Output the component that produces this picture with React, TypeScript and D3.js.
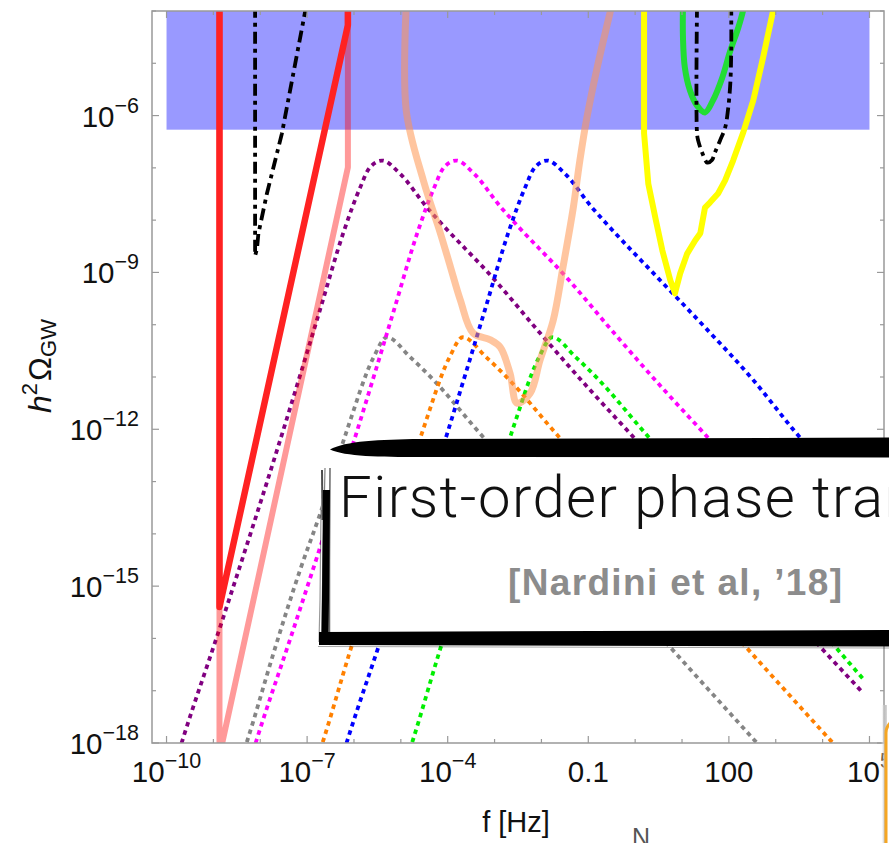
import React from "react";
import * as d3 from "d3";

// Every curve is a list of [log10 f/Hz, log10 h^2 Omega_GW] pairs.

// Pulsar-timing sensitivity curves
const eptaCurve: number[][] = [[-8.87, -3.9], [-8.87, -15.4], [-6.13, -4.27], [-6.13, -3.9]];
const skaCurve: number[][] = [[-8.87, -3.9], [-8.87, -18.2], [-8.86, -18.2], [-6.13, -6.99], [-6.13, -3.9]];

// Low-frequency dash-dot sensitivity
const dashDotLow: number[][] = [
  [-8.11, -3.9], [-8.11, -8.68], [-8.07, -8.55], [-8.04, -8.26], [-7.86, -7.5],
  [-7.54, -6.35], [-7.04, -4.0], [-7.02, -3.9],
];

// LISA sensitivity
const lisaCurve: number[][] = [
  [-4.885, -3.9], [-4.885, -5.9], [-4.52, -7.24], [-4.16, -8.24], [-3.94, -8.9],
  [-3.73, -9.53], [-3.46, -10.16], [-3.09, -10.29], [-2.88, -10.43], [-2.67, -10.93],
  [-2.52, -11.5], [-2.24, -11.31], [-2.03, -10.68], [-1.75, -9.92], [-1.54, -8.9],
  [-1.32, -7.76], [-1.18, -6.86], [-1.03, -6.04], [-0.81, -5.08], [-0.53, -4.01], [-0.5, -3.9],
];

// Ground-based detectors
const yellowCurve: number[][] = [
  [0.19, -3.9], [0.19, -6.34], [0.28, -7.3], [0.43, -7.95], [0.58, -8.58], [0.75, -9.15],
  [0.85, -9.4], [0.96, -9.02], [1.11, -8.64], [1.28, -8.39], [1.39, -8.25], [1.49, -7.76],
  [1.6, -7.66], [1.77, -7.49], [1.92, -7.24], [2.09, -6.86], [2.3, -6.34], [2.52, -5.71],
  [2.73, -4.89], [2.94, -4.01], [2.97, -3.9],
];
const greenCurve: number[][] = [
  [1.02, -3.9], [1.02, -4.5], [1.06, -5.08], [1.17, -5.52], [1.32, -5.81], [1.49, -5.94],
  [1.66, -5.71], [1.86, -5.27], [2.03, -4.76], [2.2, -4.32], [2.3, -4.0], [2.32, -3.9],
];
const dashedHigh: number[][] = [
  [1.32, -3.9], [1.32, -6.34], [1.345, -6.48], [1.43, -6.71], [1.54, -6.9], [1.64, -6.85],
  [1.7, -6.71], [1.81, -6.48], [1.92, -6.23], [1.98, -5.9], [2.03, -5.39], [2.05, -4.76], [2.05, -3.9],
];

// Phase-transition spectra
const purpleSpectrum: number[][] = [
  [-9.79, -18.32], [-9.64, -17.89], [-8.9, -15.9], [-7.51, -12.02], [-6.73, -9.73], [-6.23, -8.25],
  [-5.87, -7.38], [-5.66, -6.99], [-5.4, -6.86], [-5.02, -7.11], [-4.44, -7.76], [-4.16, -8.04],
  [-3.03, -9.11], [-2.03, -10.16], [-0.96, -11.25], [-0.17, -12.02], [4.01, -16.22], [4.86, -17.04],
];
const magentaSpectrum: number[][] = [
  [-8.21, -18.32], [-8.06, -17.89], [-7.32, -15.9], [-5.93, -12.02], [-5.15, -9.73], [-4.65, -8.25],
  [-4.29, -7.38], [-4.08, -6.99], [-3.82, -6.86], [-3.44, -7.11], [-2.86, -7.76], [-2.58, -8.04],
  [-1.45, -9.11], [-0.45, -10.16], [0.62, -11.25], [1.41, -12.02], [4.86, -15.49],
];
const blueSpectrum: number[][] = [
  [-6.27, -18.32], [-6.12, -17.89], [-5.38, -15.9], [-3.99, -12.02], [-3.21, -9.73], [-2.71, -8.25],
  [-2.35, -7.38], [-2.14, -6.99], [-1.88, -6.86], [-1.5, -7.11], [-0.92, -7.76], [-0.64, -8.04],
  [0.49, -9.11], [1.49, -10.05], [2.56, -11.1], [3.35, -11.98], [4.86, -13.5],
];
const graySpectrum: number[][] = [
  [-8.4, -18.3], [-8.25, -17.88], [-7.72, -16.29], [-7.15, -14.69], [-6.72, -13.61], [-6.15, -12.02],
  [-5.58, -10.62], [-5.3, -10.24], [-4.8, -10.62], [-4.3, -11.06], [-3.37, -12.02], [0.75, -16.17],
  [2.65, -18.05],
];
const orangeSpectrum: number[][] = [
  [-6.78, -18.3], [-6.63, -17.88], [-6.1, -16.29], [-5.53, -14.69], [-5.1, -13.61], [-4.53, -12.02],
  [-3.96, -10.62], [-3.68, -10.24], [-3.18, -10.62], [-2.68, -11.06], [-1.75, -12.02], [2.37, -16.17],
  [4.27, -18.05],
];
const greenSpectrum: number[][] = [
  [-4.87, -18.3], [-4.72, -17.88], [-4.19, -16.29], [-3.62, -14.69], [-3.19, -13.61], [-2.62, -12.02],
  [-2.05, -10.62], [-1.77, -10.24], [-1.27, -10.62], [-0.77, -11.06], [0.16, -12.02], [4.28, -16.17],
  [4.86, -16.77],
];

// Excluded band
const bandLogF = [-10, 5];
const bandLogOmega = [-6.27, -4];

// Axis ticks
const xMajorTicks = [1e-10, 1e-7, 1e-4, 0.1, 100, 1e5];
const xMajorLabels = [["10", "−10"], ["10", "−7"], ["10", "−4"], ["0.1", ""], ["100", ""], ["10", "5"]];
const yMajorTicks = [1e-18, 1e-15, 1e-12, 1e-9, 1e-6];
const yMajorLabels = [["10", "−18"], ["10", "−15"], ["10", "−12"], ["10", "−9"], ["10", "−6"]];
const xDecades = [-10, -9, -8, -7, -6, -5, -4, -3, -2, -1, 0, 1, 2, 3, 4, 5];
const yDecades = [-18, -17, -16, -15, -14, -13, -12, -11, -10, -9, -8, -7, -6, -5, -4];

const title = "First-order phase transitions";
const citation = "[Nardini et al, ’18]";

const sans = "'Liberation Sans', Helvetica, Arial, sans-serif";

export default function App() {
  const W = 889;
  const H = 843;
  const left = 152, right = 884, top = 11, bottom = 743;

  const x = d3.scaleLog().domain([10 ** -10.31, 10 ** 5.31]).range([left, right]);
  const y = d3.scaleLog().domain([1e-18, 1e-4]).range([bottom, top]);
  const px = (d: number[]) => x(10 ** d[0]);
  const py = (d: number[]) => y(10 ** d[1]);

  const linear = d3.line<number[]>().x(px).y(py);
  const smooth = d3.line<number[]>().x(px).y(py).curve(d3.curveCatmullRom.alpha(0.5));
  const mono = d3.line<number[]>().x(px).y(py).curve(d3.curveMonotoneX);

  const dotted = "4.5 4.2";
  const dashDot = "12 5 4 5";

  const spectra: [number[][], string][] = [
    [graySpectrum, "#858585"],
    [orangeSpectrum, "#ff8000"],
    [greenSpectrum, "#00ee00"],
    [purpleSpectrum, "#800080"],
    [magentaSpectrum, "#ff00ff"],
    [blueSpectrum, "#0000ff"],
  ];

  const majorLen = 7;
  const minorLen = 4;
  const tickColor = "#999";

  return (
    <svg
      width={W}
      height={H}
      viewBox={`0 0 ${W} ${H}`}
      style={{ position: "absolute", left: 0, top: 0, background: "#fff", overflow: "hidden" }}
    >
      <defs>
        <clipPath id="plotArea">
          <rect x={left} y={top} width={right - left} height={bottom - top} />
        </clipPath>
        <linearGradient id="edgeShadow" x1="0" x2="1" y1="0" y2="0">
          <stop offset="0" stopColor="#fff" stopOpacity={0} />
          <stop offset="0.6" stopColor="#bdbdbd" />
          <stop offset="1" stopColor="#d8d8d8" />
        </linearGradient>
      </defs>

      <rect x={0} y={0} width={W} height={H} fill="#fff" />

      <g clipPath="url(#plotArea)">
        <rect
          x={x(10 ** bandLogF[0])}
          y={y(10 ** bandLogOmega[1])}
          width={x(10 ** bandLogF[1]) - x(10 ** bandLogF[0])}
          height={y(10 ** bandLogOmega[0]) - y(10 ** bandLogOmega[1])}
          fill="#0000ff"
          fillOpacity={0.4}
        />

        {spectra.map(([data, color], i) => (
          <path
            key={i}
            d={mono(data) || ""}
            fill="none"
            stroke={color}
            strokeWidth={3.8}
            strokeDasharray={dotted}
          />
        ))}

        <path d={linear(skaCurve) || ""} fill="none" stroke="#ff0000" strokeOpacity={0.4} strokeWidth={6} strokeLinejoin="round" />
        <path d={smooth(lisaCurve) || ""} fill="none" stroke="#ff9650" strokeOpacity={0.55} strokeWidth={7} strokeLinejoin="round" />
        <path d={linear(eptaCurve) || ""} fill="none" stroke="#ff2222" strokeWidth={6.5} strokeLinejoin="round" />
        <path d={linear(dashDotLow) || ""} fill="none" stroke="#000" strokeWidth={3.8} strokeDasharray={dashDot} />
        <path d={linear(yellowCurve) || ""} fill="none" stroke="#ffff00" strokeWidth={6} strokeLinejoin="round" />
        <path d={smooth(greenCurve) || ""} fill="none" stroke="#22dd33" strokeWidth={6} strokeLinejoin="round" />
        <path d={smooth(dashedHigh) || ""} fill="none" stroke="#000" strokeWidth={3.8} strokeDasharray={dashDot} />
      </g>

      {/* frame */}
      <rect x={left} y={top} width={right - left} height={bottom - top} fill="none" stroke={tickColor} strokeWidth={1.5} />

      {/* ticks on all four sides */}
      <g stroke={tickColor} strokeWidth={1.2}>
        {xDecades.map((e) => {
          const major = xMajorTicks.some((t) => Math.abs(Math.log10(t) - e) < 1e-6);
          const len = major ? majorLen : minorLen;
          const xx = x(10 ** e);
          return (
            <g key={`xt${e}`}>
              <line x1={xx} x2={xx} y1={bottom} y2={bottom - len} />
              <line x1={xx} x2={xx} y1={top} y2={top + len} />
            </g>
          );
        })}
        {yDecades.map((e) => {
          const major = yMajorTicks.some((t) => Math.abs(Math.log10(t) - e) < 1e-6);
          const len = major ? majorLen : minorLen;
          const yy = y(10 ** e);
          return (
            <g key={`yt${e}`}>
              <line x1={left} x2={left + len} y1={yy} y2={yy} />
              <line x1={right} x2={right - len} y1={yy} y2={yy} />
            </g>
          );
        })}
      </g>

      {/* tick labels */}
      <g fontFamily={sans} fill="#111">
        {xMajorTicks.map((t, i) => (
          <text key={`xl${i}`} x={x(t)} y={782} fontSize={29.5} textAnchor="middle">
            <tspan>{xMajorLabels[i][0]}</tspan>
            {xMajorLabels[i][1] && (
              <tspan fontSize={21.5} dy={-14}>
                {xMajorLabels[i][1]}
              </tspan>
            )}
          </text>
        ))}
        {yMajorTicks.map((t, i) => (
          <text key={`yl${i}`} x={139} y={y(t) + 11} fontSize={29.5} textAnchor="end">
            <tspan>{yMajorLabels[i][0]}</tspan>
            <tspan fontSize={21.5} dy={-14}>
              {yMajorLabels[i][1]}
            </tspan>
          </text>
        ))}
      </g>

      {/* axis titles */}
      <text transform="translate(51,366) rotate(-90)" fontFamily={sans} fontSize={32} textAnchor="middle" fill="#111">
        <tspan fontStyle="italic">h</tspan>
        <tspan fontSize={22} dy={-14}>2</tspan>
        <tspan dx={2} dy={14}>Ω</tspan>
        <tspan fontSize={22} dy={5}>GW</tspan>
      </text>
      <text x={516} y={832} fontFamily={sans} fontSize={29} textAnchor="middle" fill="#111">
        f [Hz]
      </text>

      {/* caption box */}
      <g>
        <rect x={321} y={446} width={600} height={192} fill="#fff" />
        <path d="M330,449.5 C345,441 380,439.5 420,439 L889,437.5 L889,457.5 L420,457 C380,457 345,456.5 330,449.5 Z" fill="#000" />
        <g stroke="#000" fill="none">
          <path d="M325,468 L323,560 L321.5,643" strokeWidth={1.2} strokeOpacity={0.5} />
          <path d="M326.5,490 L325.5,600 L325,641" strokeWidth={7} />
          <path d="M330,468 L329.5,560 L329.5,634" strokeWidth={1.5} strokeOpacity={0.6} />
          <path d="M319,642 L320,600 L321,510" strokeWidth={1.2} strokeOpacity={0.4} />
          <path d="M322.5,520 L322,470" strokeWidth={2} strokeOpacity={0.7} />
        </g>
        <path d="M319,632 L889,630 L889,646.5 L319,645 Z" fill="#000" />
        <path d="M318,646.5 L889,648" stroke="#000" strokeOpacity={0.35} strokeWidth={1} fill="none" />
        <text x={339} y={517} fontFamily="Roboto, 'Liberation Sans', sans-serif" fontWeight={300} fontSize={58} letterSpacing={1.5} fill="#111">
          {title}
        </text>
        <text x={508} y={595} fontFamily={sans} fontWeight="bold" fontSize={37} fill="#8c8c8c" textLength={334} lengthAdjust="spacing">
          {citation}
        </text>
      </g>

      {/* neighbouring page elements at the edges */}
      <text x={632} y={846} fontFamily={sans} fontSize={25} fill="#555">N</text>
      <rect x={881} y={705} width={6} height={150} fill="url(#edgeShadow)" />
      <rect x={886} y={719} width={40} height={200} rx={14} fill="#fff" stroke="#f5a623" strokeWidth={3} />
    </svg>
  );
}
